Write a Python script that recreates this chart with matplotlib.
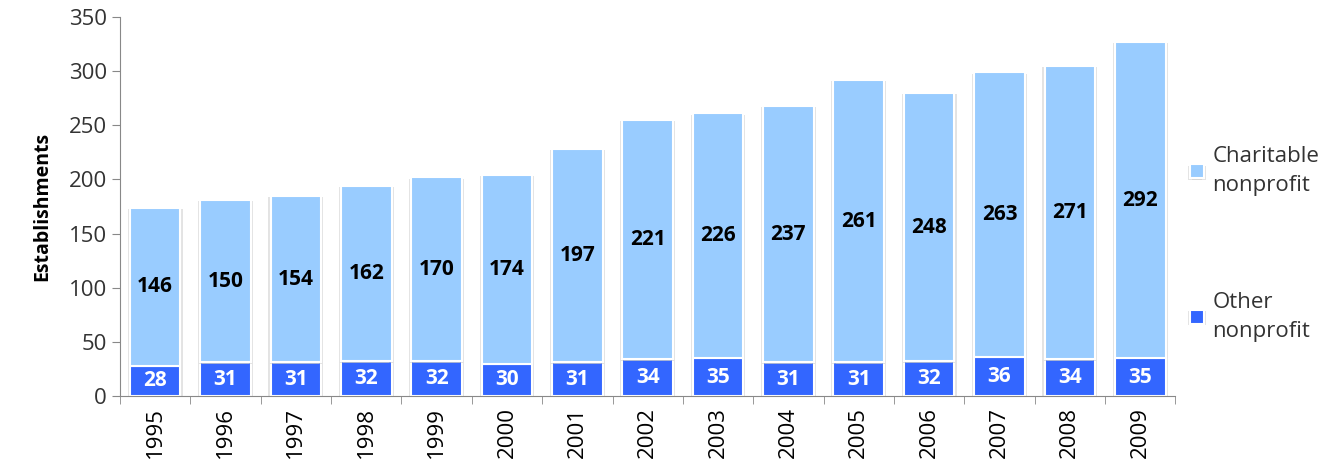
import matplotlib.pyplot as plt
import matplotlib.patheffects as pe

years = ['1995', '1996', '1997', '1998', '1999', '2000', '2001', '2002',
         '2003', '2004', '2005', '2006', '2007', '2008', '2009']
other = [28, 31, 31, 32, 32, 30, 31, 34, 35, 31, 31, 32, 36, 34, 35]
charitable = [146, 150, 154, 162, 170, 174, 197, 221, 226, 237, 261, 248, 263, 271, 292]

light = '#99ccff'
dark = '#3366ff'

plt.rcParams['font.family'] = ['Open Sans', 'DejaVu Sans']

fig = plt.figure(figsize=(13.36, 4.72), dpi=100)
ax = fig.add_axes([0.0898, 0.161, 0.79, 0.803])

x = list(range(len(years)))
shadow = [pe.SimplePatchShadow(offset=(-1.5, -1), shadow_rgbFace='#c8c8c8', alpha=0.5),
          pe.SimplePatchShadow(offset=(1.5, -1), shadow_rgbFace='#c8c8c8', alpha=0.5),
          pe.Normal()]
b1 = ax.bar(x, other, width=0.72, color=dark, edgecolor='white', linewidth=1.5,
            label='Other\nnonprofit', path_effects=shadow)
b2 = ax.bar(x, charitable, width=0.72, bottom=other, color=light, edgecolor='white',
            linewidth=1.5, label='Charitable\nnonprofit', path_effects=shadow)

for i in x:
    ax.text(i, other[i] / 2, str(other[i]), ha='center', va='center',
            color='white', fontsize=15, fontweight='bold')
    ax.text(i, other[i] + charitable[i] / 2, str(charitable[i]), ha='center',
            va='center', color='black', fontsize=15, fontweight='bold')

ax.set_xlim(-0.5, len(years) - 0.5)
ax.set_ylim(0, 350)
ax.set_yticks(range(0, 351, 50))
ax.tick_params(axis='y', labelsize=16, colors='#333333', length=6, color='#888888')
ax.set_xticks(x)
ax.set_xticklabels(years, rotation=90, fontsize=16)
ax.tick_params(axis='x', length=0, pad=8)
ax.set_xticks([i - 0.5 for i in range(len(years) + 1)], minor=True)
ax.tick_params(axis='x', which='minor', length=6, color='#888888')
ax.set_ylabel('Establishments', fontsize=14, fontweight='bold', labelpad=12)

for s in ['top', 'right']:
    ax.spines[s].set_visible(False)
for s in ['left', 'bottom']:
    ax.spines[s].set_color('#888888')

leg = fig.legend(handles=[b2, b1], loc='center left', bbox_to_anchor=(0.876, 0.483),
                 frameon=False, fontsize=16, labelspacing=4.3, handlelength=0.6,
                 handleheight=0.6, handletextpad=0.4, labelcolor='#333333')
for t in leg.get_texts():
    t.set_linespacing(1.5)

fig.savefig('out.png', dpi=100)
